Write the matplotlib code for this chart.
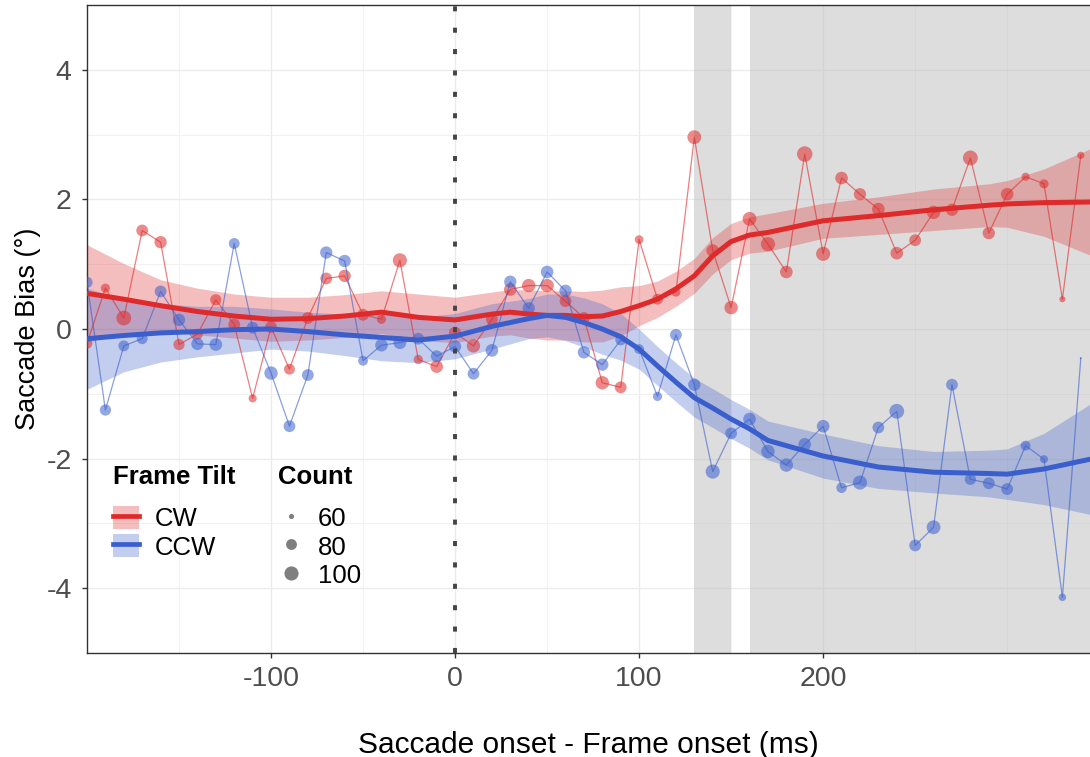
import numpy as np
import matplotlib.pyplot as plt
from matplotlib.patches import Patch
from matplotlib.lines import Line2D
from matplotlib.legend_handler import HandlerTuple

plt.rcParams['font.family'] = ['Liberation Sans', 'DejaVu Sans']
plt.rcParams['axes.unicode_minus'] = False

# raw bins, 10 ms apart
time_ms = np.arange(-200, 341, 10)
cw_bias = [-0.22, 0.63, 0.17, 1.52, 1.34, -0.24, -0.08, 0.45, 0.07, -1.07,
           0.03, -0.62, 0.17, 0.78, 0.82, 0.22, 0.15, 1.06, -0.47, -0.58,
           -0.06, -0.26, 0.15, 0.61, 0.67, 0.67, 0.43, 0.17, -0.83, -0.90,
           1.38, 0.46, 0.57, 2.96, 1.21, 0.33, 1.70, 1.31, 0.88, 2.70,
           1.16, 2.33, 2.08, 1.85, 1.17, 1.37, 1.80, 1.84, 2.64, 1.48,
           2.08, 2.35, 2.24, 0.46, 2.68]
ccw_bias = [0.72, -1.25, -0.26, -0.15, 0.58, 0.14, -0.23, -0.24, 1.32, 0.02,
            -0.68, -1.50, -0.71, 1.18, 1.05, -0.49, -0.25, -0.21, -0.15, -0.42,
            -0.27, -0.69, -0.33, 0.73, 0.32, 0.88, 0.59, -0.36, -0.55, -0.17,
            -0.31, -1.04, -0.09, -0.86, -2.20, -1.61, -1.39, -1.89, -2.10, -1.78,
            -1.50, -2.45, -2.37, -1.52, -1.27, -3.34, -3.06, -0.86, -2.32, -2.38,
            -2.47, -1.80, -2.01, -4.14, -0.45]
cw_count = [80, 72, 105, 85, 88, 82, 80, 82, 85, 68,
            85, 80, 85, 85, 88, 85, 72, 100, 72, 90,
            88, 95, 85, 90, 95, 95, 85, 85, 95, 85,
            70, 80, 72, 98, 90, 95, 98, 100, 90, 110,
            100, 90, 88, 90, 90, 85, 95, 88, 105, 88,
            90, 68, 72, 62, 65]
ccw_count = [82, 82, 80, 80, 85, 88, 88, 90, 80, 85,
             95, 85, 85, 88, 88, 75, 90, 92, 85, 85,
             88, 85, 90, 88, 88, 90, 88, 88, 88, 80,
             75, 72, 85, 88, 100, 85, 90, 95, 95, 90,
             90, 78, 100, 85, 105, 85, 98, 85, 82, 85,
             85, 75, 68, 66, 57]

# smoothed fit and ribbon half-width
smooth_x = [-200, -180, -160, -140, -120, -100, -80, -60, -40, -20, 0, 20, 30, 40, 50,
            60, 70, 80, 90, 100, 110, 120, 130, 140, 150, 160, 170, 200, 230, 260,
            290, 300, 320, 345]
cw_fit = [0.55, 0.46, 0.36, 0.27, 0.20, 0.15, 0.16, 0.20, 0.26, 0.18, 0.14, 0.23, 0.26, 0.23, 0.21,
          0.21, 0.19, 0.20, 0.27, 0.36, 0.46, 0.62, 0.82, 1.13, 1.35, 1.45, 1.49, 1.67, 1.75, 1.84,
          1.91, 1.93, 1.95, 1.96]
cw_se = [0.75, 0.55, 0.40, 0.36, 0.34, 0.34, 0.33, 0.33, 0.33, 0.36, 0.35, 0.34, 0.35, 0.37, 0.38,
         0.38, 0.39, 0.40, 0.38, 0.31, 0.28, 0.27, 0.27, 0.28, 0.28, 0.28, 0.29, 0.27, 0.29, 0.32,
         0.33, 0.36, 0.52, 0.82]
ccw_fit = [-0.15, -0.10, -0.06, -0.04, -0.01, 0.00, -0.04, -0.09, -0.13, -0.17, -0.11, 0.04, 0.10, 0.16, 0.21,
           0.18, 0.10, 0.00, -0.12, -0.31, -0.57, -0.82, -1.06, -1.22, -1.39, -1.54, -1.72, -1.96, -2.13, -2.21,
           -2.23, -2.24, -2.16, -2.01]
ccw_se = [0.78, 0.56, 0.45, 0.39, 0.36, 0.31, 0.30, 0.32, 0.36, 0.35, 0.35, 0.35, 0.33, 0.31, 0.33,
          0.36, 0.38, 0.39, 0.36, 0.31, 0.30, 0.30, 0.30, 0.30, 0.30, 0.30, 0.30, 0.34, 0.33, 0.32,
          0.36, 0.39, 0.55, 0.85]

shade_start = [130, 160]
shade_end = [150, 345]

legend_counts = [60, 80, 100]

red = '#DE2A2A'
blue = '#3A5FCD'


def marker_area(c):
    c = np.asarray(c, dtype=float)
    d_px = 2.0 + 1.85 * np.sqrt(np.clip(c - 57, 0, None))
    return (d_px * 72 / 100) ** 2


fig = plt.figure(figsize=(10.9, 7.57), dpi=100)
ax = fig.add_axes([87 / 1090, 1 - 653 / 757, 1003 / 1090, 648 / 757])

ax.set_xlim(-200, 345)
ax.set_ylim(-5, 5)
ax.set_xticks([-100, 0, 100, 200])
ax.set_xticks([-150, -50, 50, 150, 250, 300], minor=True)
ax.set_yticks([-4, -2, 0, 2, 4])
ax.set_yticks([-3, -1, 1, 3], minor=True)
ax.grid(which='major', color='#EBEBEB', lw=1.0, zorder=0)
ax.grid(which='minor', color='#EFEFEF', lw=0.6, zorder=0)
ax.set_axisbelow(True)

for s0, s1 in zip(shade_start, shade_end):
    ax.axvspan(s0, s1, color='#BEBEBE', alpha=0.52, lw=0, zorder=1)

sx = np.array(smooth_x)
for fit, se, col in [(cw_fit, cw_se, red), (ccw_fit, ccw_se, blue)]:
    fit = np.array(fit)
    se = np.array(se)
    ax.fill_between(sx, fit - se, fit + se, color=col, alpha=0.3, lw=0, zorder=2)

for bias, cnt, col in [(cw_bias, cw_count, red), (ccw_bias, ccw_count, blue)]:
    ax.plot(time_ms, bias, color=col, lw=0.9, alpha=0.6, zorder=3)
    ax.scatter(time_ms, bias, s=marker_area(cnt), color=col, alpha=0.55, lw=0, zorder=3)

ax.plot(sx, cw_fit, color=red, lw=3.6, zorder=4)
ax.plot(sx, ccw_fit, color=blue, lw=3.6, zorder=4)

ax.axvline(0, color='#444444', lw=2.8, ls=(0, (1.3, 4.2)), dash_capstyle='butt', zorder=5)

for side in ['left', 'top', 'bottom']:
    ax.spines[side].set_color('#333333')
    ax.spines[side].set_linewidth(1.0)
ax.spines['right'].set_visible(False)
ax.tick_params(which='major', length=3.5, width=1.0, color='#333333',
               labelsize=20.5, labelcolor='#4D4D4D', pad=6)
ax.tick_params(axis='y', which='major', pad=7.5)
ax.tick_params(which='minor', length=0)

ax.set_xlabel('Saccade onset - Frame onset (ms)', fontsize=21.5, labelpad=28)
ax.set_ylabel('Saccade Bias (°)', fontsize=19.5, labelpad=4)

# legends
ax.text(0.026, 0.2716, 'Frame Tilt', transform=ax.transAxes, fontsize=18.5,
        fontweight='bold', ha='left', va='center')
ax.text(0.1904, 0.2716, 'Count', transform=ax.transAxes, fontsize=18.5,
        fontweight='bold', ha='left', va='center')

tilt_handles = [(Patch(facecolor=red, alpha=0.3, edgecolor='none'), Line2D([], [], color=red, lw=3.4)),
                (Patch(facecolor=blue, alpha=0.3, edgecolor='none'), Line2D([], [], color=blue, lw=3.4))]
leg1 = ax.legend(tilt_handles, ['CW', 'CCW'], loc='upper left', bbox_to_anchor=(0.026, 0.227),
                 frameon=False, fontsize=18.5, handlelength=1.0, handleheight=1.0,
                 handletextpad=0.62, labelspacing=0.12, borderpad=0, borderaxespad=0,
                 handler_map={tuple: HandlerTuple(ndivide=1)})
ax.add_artist(leg1)

count_handles = [Line2D([], [], ls='none', marker='o', color='black', alpha=0.5,
                        markeredgewidth=0, markersize=np.sqrt(marker_area(c)))
                 for c in legend_counts]
leg2 = ax.legend(count_handles, [str(c) for c in legend_counts], loc='upper left',
                 bbox_to_anchor=(0.1904, 0.227), frameon=False, fontsize=18.5,
                 handlelength=1.0, handleheight=1.0, handletextpad=0.55,
                 labelspacing=0.12, borderpad=0, borderaxespad=0)

fig.savefig('out.png', dpi=100)
